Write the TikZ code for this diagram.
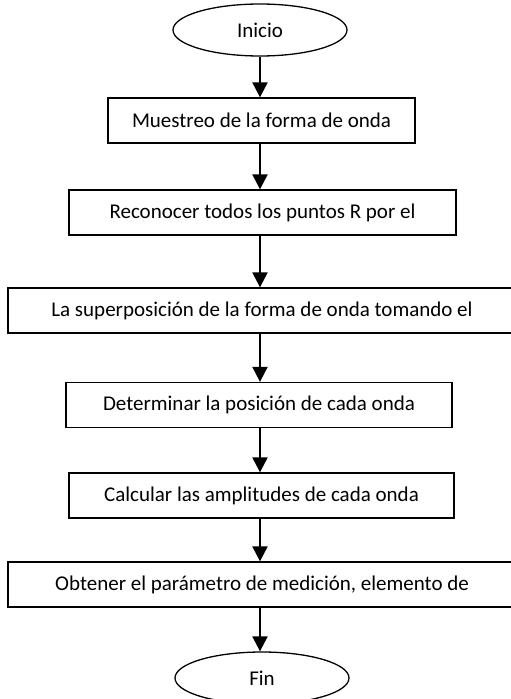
\documentclass[tikz,border=0pt]{standalone}
\usepackage{fontspec}
\setmainfont{Carlito}
\usetikzlibrary{arrows.meta,shapes.geometric}
\tikzset{
  stepbox/.style={draw=black, line width=1.3pt, rectangle, minimum height=45pt, inner sep=0pt, font=\fontsize{21}{25}\selectfont},
  term/.style={draw=black, line width=1.3pt, ellipse, minimum width=174pt, minimum height=52pt, inner sep=0pt, font=\fontsize{21}{25}\selectfont},
  flow/.style={line width=2.2pt, -{Triangle[length=15pt,width=15pt]}, shorten >=0pt}
}
\begin{document}
\begin{tikzpicture}[x=1pt,y=-1pt]
\useasboundingbox (0,0) rectangle (511,699);
\clip (0,0) rectangle (511,699);
\node[term] (inicio) at (260,30) {Inicio};
\node[stepbox, minimum width=307pt] (b1) at (261.5,120.5) {Muestreo de la forma de onda};
\node[stepbox, minimum width=387pt] (b2) at (262.5,212.5) {Reconocer todos los puntos R por el};
\node[stepbox, minimum width=508pt] (b3) at (262,310.5) {La superposición de la forma de onda tomando el};
\node[stepbox, minimum width=386pt] (b4) at (259,405) {Determinar la posición de cada onda};
\node[stepbox, minimum width=385pt] (b5) at (261.5,495.5) {Calcular las amplitudes de cada onda};
\node[stepbox, minimum width=508pt] (b6) at (262,584.5) {Obtener el parámetro de medición, elemento de};
\node[term] (fin) at (262,678) {Fin};
\coordinate (ax) at (260,0);
\draw[flow] (inicio.south -| ax) -- (b1.north -| ax);
\draw[flow] (b1.south -| ax) -- (b2.north -| ax);
\draw[flow] (b2.south -| ax) -- (b3.north -| ax);
\draw[flow] (b3.south -| ax) -- (b4.north -| ax);
\draw[flow] (b4.south -| ax) -- (b5.north -| ax);
\draw[flow] (b5.south -| ax) -- (b6.north -| ax);
\draw[flow] (b6.south -| ax) -- (fin.north -| ax);
\end{tikzpicture}
\end{document}
